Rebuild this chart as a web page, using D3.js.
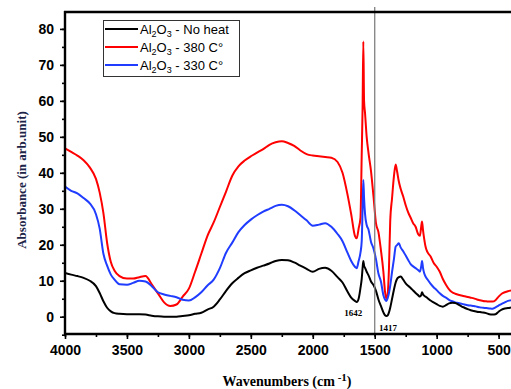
<!DOCTYPE html>
<html>
<head>
<meta charset="utf-8">
<script src="https://cdn.jsdelivr.net/npm/d3@7"></script>
<style>
  html, body { margin: 0; padding: 0; background: #fff; }
  svg { display: block; }
</style>
</head>
<body>
<svg id="chart" width="511" height="389"></svg>
<script>
// FTIR spectra of Al2O3 samples (absorbance vs wavenumber)
const wavenumbers = [4000, 3950, 3900, 3850, 3800, 3750, 3720, 3690, 3660, 3630, 3600, 3560, 3500, 3450, 3400, 3350, 3300, 3250, 3200, 3150, 3100, 3050, 3000, 2950, 2900, 2850, 2800, 2750, 2700, 2650, 2600, 2550, 2500, 2450, 2400, 2350, 2300, 2250, 2200, 2150, 2100, 2050, 2000, 1950, 1900, 1850, 1800, 1760, 1720, 1690, 1660, 1645, 1630, 1615, 1605, 1598, 1592, 1586, 1578, 1565, 1550, 1530, 1510, 1490, 1470, 1450, 1430, 1417, 1405, 1395, 1385, 1375, 1360, 1345, 1331, 1320, 1305, 1290, 1270, 1250, 1230, 1210, 1190, 1170, 1150, 1135, 1125, 1118, 1110, 1100, 1090, 1075, 1050, 1025, 1000, 975, 950, 925, 900, 875, 850, 825, 800, 775, 750, 725, 700, 675, 650, 625, 600, 575, 550, 525, 500, 475, 450, 425, 400];

const absNoHeat = [12.2, 11.7, 11.3, 10.8, 10.0, 8.5, 6.6, 4.3, 2.5, 1.5, 1.0, 0.8, 0.7, 0.7, 0.7, 0.6, 0.3, 0.1, 0.0, 0.0, 0.0, 0.2, 0.4, 0.8, 1.1, 2.0, 2.8, 4.8, 7.2, 9.3, 10.8, 12.1, 12.9, 13.6, 14.2, 14.8, 15.5, 15.8, 15.7, 15.1, 14.2, 13.3, 12.5, 13.3, 13.6, 12.8, 11.0, 9.5, 7.0, 5.3, 4.4, 4.1, 5.0, 8.0, 10.5, 13.5, 15.5, 14.2, 13.6, 12.5, 11.5, 9.8, 8.8, 7.2, 4.8, 3.0, 1.2, 0.4, 0.2, 0.4, 1.2, 2.5, 5.0, 7.5, 9.5, 10.5, 11.0, 11.2, 10.3, 9.3, 8.6, 8.0, 7.3, 6.6, 6.0, 5.6, 6.0, 6.8, 6.2, 5.8, 5.6, 5.2, 4.5, 4.0, 3.5, 3.0, 2.8, 3.2, 3.7, 3.9, 3.8, 3.4, 2.9, 2.5, 2.1, 1.8, 1.6, 1.4, 1.3, 1.2, 1.0, 0.7, 0.6, 0.7, 1.4, 2.0, 2.3, 2.4, 2.6];

const abs380 = [46.8, 45.8, 44.8, 43.5, 41.5, 38.3, 34.5, 28.8, 20.5, 15.2, 12.8, 11.3, 10.6, 10.6, 11.0, 11.3, 9.0, 6.5, 4.0, 3.0, 3.4, 5.6, 7.8, 12.5, 17.5, 22.5, 26.2, 30.5, 34.8, 39.2, 41.8, 43.4, 44.6, 45.6, 46.6, 47.8, 48.5, 48.8, 48.3, 47.5, 46.2, 45.2, 44.8, 44.6, 44.4, 44.2, 43.0, 40.0, 34.0, 28.5, 22.5, 21.8, 24.5, 27.5, 45.0, 58.0, 76.5, 60.0, 56.5, 50.0, 45.5, 40.5, 33.5, 26.0, 23.5, 18.5, 12.5, 7.0, 5.0, 6.5, 13.5, 26.5, 33.0, 39.0, 42.3, 40.5, 37.5, 35.5, 33.4, 31.0, 29.0, 27.5, 26.0, 25.0, 23.0, 22.5, 25.0, 26.5, 24.0, 21.5, 19.5, 18.0, 16.8, 15.0, 13.9, 12.5, 10.5, 8.9, 7.6, 6.8, 6.4, 6.1, 5.9, 5.7, 5.5, 5.3, 5.1, 4.8, 4.6, 4.4, 4.3, 4.2, 4.2, 4.6, 5.6, 6.4, 6.8, 7.1, 7.3];

const abs330 = [36.2, 35.0, 34.3, 33.0, 31.5, 28.5, 24.5, 17.5, 14.2, 11.7, 10.3, 9.0, 8.9, 9.4, 10.0, 9.8, 8.5, 6.8, 6.2, 5.8, 5.4, 4.7, 4.5, 5.4, 6.8, 8.7, 10.3, 13.5, 17.8, 20.6, 23.5, 25.5, 27.0, 28.2, 29.2, 30.0, 30.8, 31.1, 30.7, 29.6, 28.2, 26.8, 25.3, 25.6, 26.0, 25.0, 23.0, 21.0, 17.8, 15.5, 13.9, 13.5, 15.5, 17.8, 21.0, 30.0, 38.0, 33.0, 28.5, 25.5, 24.2, 20.8, 19.0, 16.0, 12.0, 9.8, 6.0, 4.8, 4.4, 5.2, 6.6, 8.6, 12.5, 16.0, 19.5, 19.9, 20.4, 19.2, 18.2, 17.0, 15.8, 14.6, 14.0, 13.5, 13.0, 12.5, 14.0, 15.5, 13.5, 12.0, 11.2, 10.4, 9.2, 8.2, 7.4, 6.5, 5.8, 5.3, 4.7, 4.3, 4.0, 3.8, 3.6, 3.4, 3.2, 3.1, 3.0, 2.8, 2.6, 2.5, 2.4, 2.3, 2.2, 2.6, 3.1, 3.6, 4.0, 4.4, 4.6];

const seriesNames = ["No heat", "380 C°", "330 C°"];
const seriesColors = ["#000000", "#ff0000", "#1f3cff"];
const xTicks = [4000, 3500, 3000, 2500, 2000, 1500, 1000, 500];
const yTicks = [0, 10, 20, 30, 40, 50, 60, 70, 80];
const markerLine = 1500;
const bandLabels = [{ wn: 1642, text: "1642" }, { wn: 1417, text: "1417" }];

const svg = d3.select("#chart");
const margin = { left: 65, top: 12, right: 0, bottom: 55 };
const W = 511, H = 389;

const x = d3.scaleLinear().domain([4000, 400]).range([margin.left, W - margin.right]);
const y = d3.scaleLinear().domain([-4.8, 84.7]).range([H - margin.bottom, margin.top]);

svg.append("defs").append("clipPath").attr("id", "plotClip")
  .append("rect")
  .attr("x", margin.left).attr("y", margin.top)
  .attr("width", W - margin.left).attr("height", y(-4.8) - margin.top);

// Spectra
const seriesValues = [absNoHeat, abs380, abs330];
const line = d3.line()
  .x(d => x(d[0]))
  .y(d => y(d[1]))
  .curve(d3.curveMonotoneX);

const plot = svg.append("g").attr("clip-path", "url(#plotClip)");
[1, 2, 0].forEach(i => {
  const pts = wavenumbers.map((w, k) => [w, seriesValues[i][k]]);
  plot.append("path")
    .datum(pts)
    .attr("fill", "none")
    .attr("stroke", seriesColors[i])
    .attr("stroke-width", 2)
    .attr("stroke-linejoin", "round")
    .attr("d", line);
});

// Reference line at 1500 cm-1
svg.append("line")
  .attr("x1", x(markerLine)).attr("x2", x(markerLine))
  .attr("y1", 7).attr("y2", y(-4.8) + 2)
  .attr("stroke", "#808080").attr("stroke-width", 1.3);

// Axes
const xMinor = d3.range(4000, 399, -250);
const yMinor = d3.range(-5, 85, 5);

const xAxis = svg.append("g").attr("transform", `translate(0,${y(-4.8)})`);
xAxis.call(d3.axisBottom(x).tickValues(xMinor).tickSize(3).tickFormat(""));
xAxis.call(g => g.select(".domain").remove());
const xMajor = svg.append("g").attr("transform", `translate(0,${y(-4.8)})`)
  .call(d3.axisBottom(x).tickValues(xTicks).tickSize(5).tickPadding(6).tickFormat(d3.format("d")));
xMajor.select(".domain").remove();
xMajor.selectAll("text")
  .attr("font-family", "Arial, 'Liberation Sans', sans-serif")
  .attr("font-weight", "bold").attr("font-size", 14).attr("fill", "#000");

const yAxisMinor = svg.append("g").attr("transform", `translate(${margin.left},0)`)
  .call(d3.axisLeft(y).tickValues(yMinor).tickSize(3).tickFormat(""));
yAxisMinor.select(".domain").remove();
const yMajor = svg.append("g").attr("transform", `translate(${margin.left},0)`)
  .call(d3.axisLeft(y).tickValues(yTicks).tickSize(5).tickPadding(6));
yMajor.select(".domain").remove();
yMajor.selectAll("text")
  .attr("font-family", "Arial, 'Liberation Sans', sans-serif")
  .attr("font-weight", "bold").attr("font-size", 14).attr("fill", "#000");
svg.selectAll(".tick line").attr("stroke", "#000").attr("stroke-width", 1.6);

// Frame: left, bottom, top
const frame = svg.append("g").attr("stroke", "#000").attr("stroke-width", 2.4).attr("fill", "none");
frame.append("line").attr("x1", margin.left).attr("x2", margin.left).attr("y1", margin.top - 1).attr("y2", y(-4.8) + 1);
frame.append("line").attr("x1", margin.left - 1).attr("x2", W).attr("y1", y(-4.8)).attr("y2", y(-4.8));
frame.append("line").attr("x1", margin.left - 1).attr("x2", W).attr("y1", margin.top).attr("y2", margin.top);

// Band labels
const serifFont = "'Times New Roman', 'Liberation Serif', serif";
svg.append("text").attr("x", x(bandLabels[0].wn) - 4).attr("y", 316)
  .attr("text-anchor", "middle").attr("font-family", serifFont)
  .attr("font-weight", "bold").attr("font-size", 9).text(bandLabels[0].text);
svg.append("text").attr("x", x(bandLabels[1].wn) + 3).attr("y", 331)
  .attr("text-anchor", "middle").attr("font-family", serifFont)
  .attr("font-weight", "bold").attr("font-size", 9).text(bandLabels[1].text);

// Axis titles
svg.append("text")
  .attr("transform", "translate(26,180) rotate(-90)")
  .attr("text-anchor", "middle")
  .attr("font-family", serifFont).attr("font-weight", "bold").attr("font-size", 13)
  .attr("fill", "#1c2448")
  .text("Absorbance (in arb.unit)");

const xt = svg.append("text")
  .attr("x", 287).attr("y", 386)
  .attr("text-anchor", "middle")
  .attr("font-family", serifFont).attr("font-weight", "bold").attr("font-size", 14)
  .attr("fill", "#000");
xt.append("tspan").text("Wavenumbers (cm");
xt.append("tspan").attr("dy", -5).attr("font-size", 11).text(" -1");
xt.append("tspan").attr("dy", 5).text(")");

// Legend
const lg = svg.append("g");
lg.append("rect").attr("x", 103.5).attr("y", 20.5).attr("width", 136).attr("height", 56)
  .attr("fill", "#fff").attr("stroke", "#333").attr("stroke-width", 1);
seriesNames.forEach((name, i) => {
  const cy = 29 + i * 18;
  lg.append("line").attr("x1", 105).attr("x2", 138).attr("y1", cy).attr("y2", cy)
    .attr("stroke", seriesColors[i]).attr("stroke-width", 2);
  const t = lg.append("text").attr("x", 140).attr("y", cy + 5)
    .attr("font-family", "Arial, 'Liberation Sans', sans-serif").attr("font-size", 13).attr("fill", "#000");
  t.append("tspan").text("Al");
  t.append("tspan").attr("dy", 3).attr("font-size", 9).text("2");
  t.append("tspan").attr("dy", -3).text("O");
  t.append("tspan").attr("dy", 3).attr("font-size", 9).text("3");
  t.append("tspan").attr("dy", -3).text(" - " + name);
});
</script>
</body>
</html>
